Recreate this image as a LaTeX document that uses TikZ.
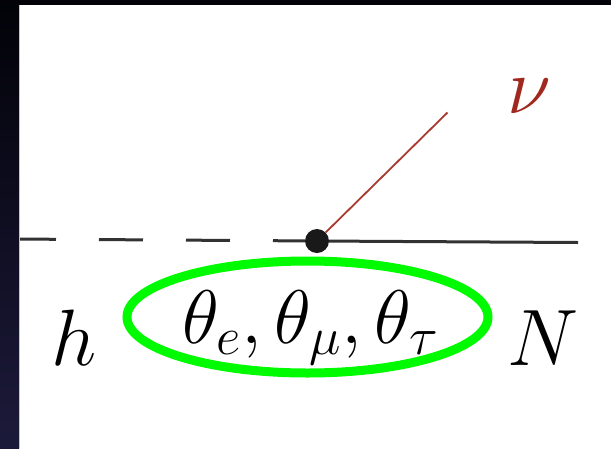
\documentclass[tikz,border=0pt]{standalone}
\usepackage{fix-cm}
\usetikzlibrary{shapes.geometric}
\definecolor{bandtop}{RGB}{2,2,8}
\definecolor{bandbot}{RGB}{28,26,58}
\definecolor{lineclr}{RGB}{50,50,50}
\definecolor{nuclr}{RGB}{168,58,48}
\definecolor{nutext}{RGB}{160,40,30}
\definecolor{mixgreen}{RGB}{0,250,0}
\tikzset{
  lbl/.style={inner sep=0pt, outer sep=0pt, anchor=base west, font=\fontsize{80}{96}\selectfont, text=black},
  thlbl/.style={inner sep=0pt, outer sep=0pt, anchor=base west, font=\fontsize{76}{90}\selectfont, text=black},
  vertexdot/.style={circle, fill=black!90, inner sep=0pt, minimum size=24pt},
  hline/.style={draw=lineclr, line width=3pt, dash pattern=on 44pt off 43pt},
  nline/.style={draw=lineclr, line width=3pt},
  nuline/.style={draw=nuclr, line width=1.8pt},
  mixring/.style={draw=mixgreen, ellipse, line width=9pt, minimum width=361pt, minimum height=112pt, inner sep=0pt}
}
\begin{document}
\begin{tikzpicture}[x=1pt,y=-1pt]
\useasboundingbox (0,0) rectangle (611,448);
\fill[white] (0,0) rectangle (611,448);
% vertex and lines
\node[vertexdot] (v) at (317,241) {};
\coordinate (hstart) at (12,239);
\coordinate (nend) at (578,242.5);
\coordinate (nuend) at (447.5,112.5);
\draw[hline] (hstart) -- (v);
\draw[nline] (v) -- (nend);
\draw[nuline] (v) -- (nuend);
% labels
\node[lbl, text=nutext] (nu) at (507,113) {$\nu$};
\node[lbl] (h) at (51,365) {$h$};
\node[lbl] (N) at (507,365) {$N$};
\node[mixring] (mix) at (307.5,317) {};
\node[thlbl] (th) at (182,343) {$\theta_e,\theta_\mu,\theta_\tau$};
% screen border bands
\shade[top color=bandtop, bottom color=bandbot] (0,0) rectangle (19,448);
\fill[bandtop] (0,0) rectangle (611,5);
\draw[gray!45, line width=1pt] (19.5,5) -- (19.5,448);
\end{tikzpicture}
\end{document}
